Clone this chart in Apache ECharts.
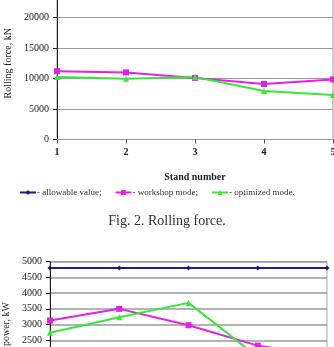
<!DOCTYPE html>
<html>
<head>
<meta charset="utf-8">
<script src="https://cdn.jsdelivr.net/npm/echarts@6/dist/echarts.min.js"></script>
<style>
  html, body { margin: 0; padding: 0; background: #fff; }
  #chart { width: 334px; height: 347px; }
</style>
</head>
<body>
<div id="chart"></div>
<script>
// stand numbers (x axis)
var stands = [1, 2, 3, 4, 5];

// Fig. 2 - rolling force, kN
var forceAllowable = [25000, 25000, 25000, 25000, 25000];
var forceWorkshop = [11200, 11000, 10100, 9100, 9850];
var forceOptimized = [10250, 9950, 10250, 7950, 7300];

// Fig. 3 - power, kW
var powerAllowable = [4800, 4800, 4800, 4800, 4800];
var powerWorkshop = [3130, 3500, 2980, 2330, 2000];
var powerOptimized = [2740, 3230, 3690, 1970, 1700];

var names = ['- allowable value;', '- workshop mode;', '- optimized mode.'];
var colors = ['#1c1c84', '#e81ee8', '#36e836'];
var symbols = ['diamond', 'rect', 'triangle'];

var serif = 'Liberation Serif';

function pairs(values) {
    return stands.map(function (s, i) { return [s, values[i]]; });
}

function plain(v) {
    return String(v);
}

function makeSeries(idx, values, gridIndex) {
    return {
        name: names[idx],
        type: 'line',
        xAxisIndex: gridIndex,
        yAxisIndex: gridIndex,
        data: pairs(values),
        symbol: symbols[idx],
        symbolSize: idx === 0 ? 5 : 6,
        lineStyle: { color: colors[idx], width: 2 },
        itemStyle: { color: colors[idx] },
        clip: true,
        animation: false
    };
}

var dom = document.getElementById('chart');
var myChart = echarts.init(dom);

var option = {
    backgroundColor: '#fff',
    animation: false,
    title: {
        text: 'Fig. 2. Rolling force.',
        left: 'center',
        top: 209,
        textStyle: { fontFamily: serif, fontSize: 14, fontWeight: 'normal', color: '#333' }
    },
    legend: {
        data: names,
        left: 14,
        top: 183,
        itemGap: 13,
        itemWidth: 16,
        itemHeight: 6,
        textStyle: { fontFamily: serif, fontSize: 9, color: '#333', padding: [0, 0, 0, -4] }
    },
    grid: [
        { left: 57, right: 1, top: -13, height: 152.5, outerBoundsMode: 'none', containLabel: false,
          show: true, borderColor: '#999', borderWidth: 1 },
        { left: 50, right: 7, top: 261.7, height: 157.2, outerBoundsMode: 'none', containLabel: false,
          show: true, borderColor: '#aaa', borderWidth: 1 }
    ],
    xAxis: [
        {
            gridIndex: 0, type: 'value', min: 1, max: 5, interval: 1,
            name: 'Stand number', nameLocation: 'middle', nameGap: 33,
            nameTextStyle: { fontFamily: serif, fontSize: 10, fontWeight: 'bold', color: '#222' },
            axisLine: { lineStyle: { color: '#999' } },
            axisTick: { show: true, length: 4, lineStyle: { color: '#555' } },
            axisLabel: { fontFamily: serif, fontSize: 10, fontWeight: 'bold', color: '#222', margin: 8 },
            splitLine: { show: false }
        },
        {
            gridIndex: 1, type: 'value', min: 1, max: 5, interval: 1,
            axisLine: { show: false },
            axisTick: { show: false },
            axisLabel: { show: false },
            splitLine: { show: false }
        }
    ],
    yAxis: [
        {
            gridIndex: 0, type: 'value', min: 0, max: 25000, interval: 5000,
            name: 'Rolling force, kN', nameLocation: 'middle', nameGap: 41,
            nameTextStyle: { fontFamily: serif, fontSize: 10, color: '#222' },
            axisLine: { show: true, lineStyle: { color: '#222' } },
            axisTick: { show: true, length: 4, lineStyle: { color: '#222' } },
            axisLabel: { fontFamily: serif, fontSize: 10, color: '#222', margin: 8, formatter: plain },
            splitLine: { lineStyle: { color: '#999', width: 1.2 } }
        },
        {
            gridIndex: 1, type: 'value', min: 0, max: 5000, interval: 500,
            name: 'Rolling power, kW', nameLocation: 'middle', nameGap: 35,
            nameTextStyle: { fontFamily: serif, fontSize: 10, color: '#222' },
            axisLine: { show: true, lineStyle: { color: '#222' } },
            axisTick: { show: true, length: 4, lineStyle: { color: '#222' } },
            axisLabel: { fontFamily: serif, fontSize: 10, color: '#222', margin: 8, formatter: plain },
            splitLine: { lineStyle: { color: '#999', width: 1.5 } }
        }
    ],
    series: [
        makeSeries(0, forceAllowable, 0),
        makeSeries(1, forceWorkshop, 0),
        makeSeries(2, forceOptimized, 0),
        makeSeries(0, powerAllowable, 1),
        makeSeries(1, powerWorkshop, 1),
        makeSeries(2, powerOptimized, 1)
    ]
};

if (option && typeof option === "object") {
    myChart.setOption(option, true);
}
</script>
</body>
</html>
